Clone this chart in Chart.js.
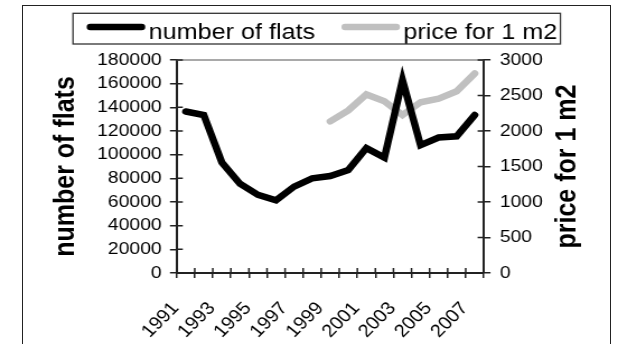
<!DOCTYPE html>
<html>
<head>
<meta charset="utf-8">
<script src="https://cdn.jsdelivr.net/npm/chart.js@4.4.1/dist/chart.umd.min.js"></script>
<style>
  html, body { margin: 0; padding: 0; background: #fff; overflow: hidden; }
  #wrap { position: relative; width: 618px; height: 344px; }
  #chart { position: absolute; left: 0; top: 0; }
  #frame { position: absolute; left: 22px; top: 5px; width: 589px; height: 400px;
           border: 1px solid #222; box-sizing: border-box; pointer-events: none; }
</style>
</head>
<body>
<div id="wrap">
  <canvas id="chart" width="552" height="344" style="width:618px;height:344px"></canvas>
  <div id="frame"></div>
</div>
<script>
// Housing statistics, 1991-2007
const years = ['1991', '1992', '1993', '1994', '1995', '1996', '1997', '1998', '1999',
               '2000', '2001', '2002', '2003', '2004', '2005', '2006', '2007'];
const flats = [136500, 133500, 93500, 75500, 66000, 61500, 73000, 80000, 82000,
               87000, 105500, 97500, 163000, 108000, 114500, 115500, 133500];
const pricePerM2 = [null, null, null, null, null, null, null, null, 2135,
                    2290, 2515, 2420, 2225, 2405, 2455, 2560, 2810];
const seriesNames = ['number of flats', 'price for 1 m2'];
const seriesColors = ['#000000', '#c0c0c0'];

const FONT = "'Liberation Sans', Arial, Helvetica, sans-serif";
Chart.defaults.font.family = FONT;

// cross-style tick marks, plot-area top border, right axis title and boxed legend
const decor = {
  id: 'decor',
  beforeDatasetsDraw(chart) {
    const { ctx, chartArea: a } = chart;
    ctx.save();
    ctx.strokeStyle = '#8c8c8c';
    ctx.lineWidth = 1.6;
    ctx.beginPath();
    ctx.moveTo(a.left, a.top);
    ctx.lineTo(a.right, a.top);
    ctx.stroke();
    ctx.restore();
  },
  afterDraw(chart) {
    const { ctx, chartArea: a, scales } = chart;
    ctx.save();
    ctx.strokeStyle = '#222';
    ctx.lineWidth = 1.5;
    ctx.beginPath();
    // inner halves of the category boundary ticks
    const xs = scales.x;
    const n = xs.ticks.length;
    const half = (xs.getPixelForTick(1) - xs.getPixelForTick(0)) / 2;
    for (let i = 0; i <= n; i++) {
      const px = i < n ? xs.getPixelForTick(i) - half : xs.getPixelForTick(n - 1) + half;
      ctx.moveTo(px, a.bottom);
      ctx.lineTo(px, a.bottom - 5);
    }
    // inner halves of the value ticks
    scales.y.ticks.forEach((t, i) => {
      const py = scales.y.getPixelForTick(i);
      ctx.moveTo(a.left, py);
      ctx.lineTo(a.left + 5.5, py);
    });
    scales.y1.ticks.forEach((t, i) => {
      const py = scales.y1.getPixelForTick(i);
      ctx.moveTo(a.right, py);
      ctx.lineTo(a.right - 5.5, py);
    });
    ctx.stroke();

    // right axis title, reading bottom to top
    ctx.fillStyle = '#000';
    ctx.font = 'bold 25px ' + FONT;
    ctx.textAlign = 'center';
    ctx.textBaseline = 'middle';
    ctx.translate(scales.y1.right - 45.3, (a.top + a.bottom) / 2);
    ctx.rotate(-Math.PI / 2);
    ctx.fillText(seriesNames[1], 0, 0);
    ctx.restore();

    // legend
    const L = { left: 65.2, top: 13.3, bottom: 44, padL: 12.5, sample: 51.8,
                gap: 3.3, itemGap: 23.6, padR: 2.7, lineY: 27, textY: 39.3 };
    ctx.save();
    ctx.font = '22.5px ' + FONT;
    ctx.textBaseline = 'alphabetic';
    ctx.textAlign = 'left';
    let x = L.left + L.padL;
    chart.data.datasets.forEach((ds, i) => {
      if (i > 0) x += L.itemGap;
      ctx.strokeStyle = ds.borderColor;
      ctx.lineWidth = 6.5;
      ctx.lineCap = 'round';
      ctx.beginPath();
      ctx.moveTo(x + 3, L.lineY);
      ctx.lineTo(x + L.sample - 3, L.lineY);
      ctx.stroke();
      x += L.sample + L.gap;
      ctx.fillStyle = '#000';
      ctx.fillText(ds.label, x, L.textY);
      x += ctx.measureText(ds.label).width;
    });
    ctx.strokeStyle = '#333';
    ctx.lineWidth = 1.3;
    ctx.strokeRect(L.left, L.top, x + L.padR - L.left, L.bottom - L.top);
    ctx.restore();
  }
};

const tickFont = { size: 17.3 };

new Chart(document.getElementById('chart'), {
  type: 'line',
  data: {
    labels: years,
    datasets: [
      { label: seriesNames[0], data: flats, yAxisID: 'y',
        borderColor: seriesColors[0], backgroundColor: seriesColors[0],
        borderWidth: 6.5, pointRadius: 0, tension: 0,
        borderCapStyle: 'round', borderJoinStyle: 'miter' },
      { label: seriesNames[1], data: pricePerM2, yAxisID: 'y1',
        borderColor: seriesColors[1], backgroundColor: seriesColors[1],
        borderWidth: 6.5, pointRadius: 0, tension: 0,
        borderCapStyle: 'round', borderJoinStyle: 'miter' }
    ]
  },
  options: {
    responsive: false,
    animation: false,
    devicePixelRatio: 1,
    layout: { padding: { left: 0, right: 0, top: 60, bottom: 0 } },
    plugins: { legend: { display: false }, tooltip: { enabled: false } },
    scales: {
      x: {
        type: 'category',
        offset: true,
        grid: { offset: true, drawOnChartArea: false, tickLength: 5, color: '#222', lineWidth: 1.5 },
        border: { color: '#222', width: 2 },
        ticks: {
          autoSkip: false, minRotation: 48, maxRotation: 48,
          padding: 20, labelOffset: -9,
          color: '#000', font: { size: 18 },
          callback: (v, i) => (i % 2 === 0 ? years[i] : '')
        },
        afterFit: (s) => { s.height = 71; }
      },
      y: {
        position: 'left',
        min: 0, max: 180000,
        grid: { drawOnChartArea: false, tickLength: 6, color: '#222', lineWidth: 1.5 },
        border: { color: '#222', width: 2 },
        ticks: { stepSize: 20000, autoSkip: false, padding: 7.4, color: '#000', font: tickFont,
                 callback: (v) => String(v) },
        title: { display: true, text: seriesNames[0], color: '#000',
                 font: { size: 25, weight: 'bold' }, padding: { top: 44.4, bottom: 0 } },
        afterFit: (s) => { s.width = 157.8; }
      },
      y1: {
        position: 'right',
        min: 0, max: 3000,
        grid: { drawOnChartArea: false, tickLength: 6, color: '#222', lineWidth: 1.5 },
        border: { color: '#222', width: 2 },
        ticks: { stepSize: 500, autoSkip: false, padding: 8.3, color: '#000', font: tickFont,
                 callback: (v) => String(v) },
        afterFit: (s) => { s.width = 119.9; }
      }
    }
  },
  plugins: [decor]
});
</script>
</body>
</html>
